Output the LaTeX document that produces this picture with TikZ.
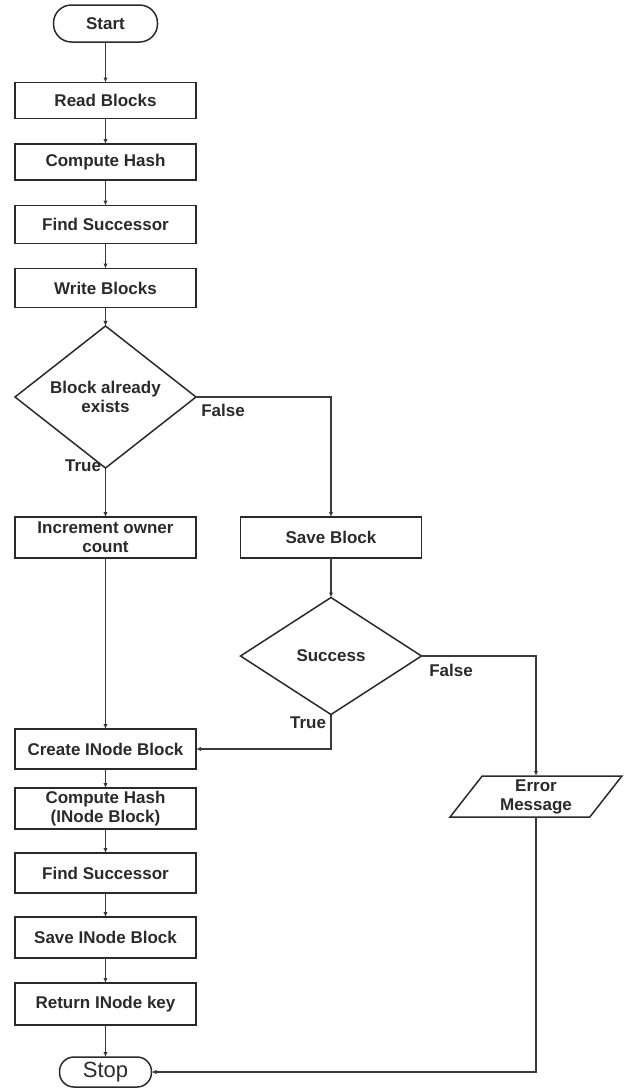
\documentclass[tikz,border=0pt]{standalone}
\usepackage{fontspec}
\setmainfont{Liberation Sans}
\usetikzlibrary{shapes.geometric,arrows.meta}
\definecolor{ink}{HTML}{2A2A2A}
\definecolor{wire}{HTML}{3A3A3A}
\tikzset{
  base/.style={draw=ink, line width=1.5pt, text=ink, inner sep=0pt, outer sep=0pt,
    font=\fontsize{17}{19}\selectfont\bfseries, align=center},
  procbox/.style={base, rectangle, minimum width=181pt},
  termbox/.style={base, rectangle},
  decbox/.style={base, diamond, minimum width=181pt, minimum height=117pt},
  iobox/.style={base, trapezium, trapezium left angle=58, trapezium right angle=122,
    trapezium stretches=true, minimum width=172pt, minimum height=41pt},
  conn/.style={draw=wire, line width=1.5pt, -{Latex[length=5pt,width=4.5pt]}},
  lbl/.style={text=ink, font=\fontsize{17}{19}\selectfont\bfseries, inner sep=0pt}
}
\begin{document}
\begin{tikzpicture}[x=1pt,y=-1pt]
\useasboundingbox (0,0) rectangle (624,1088);
\node[termbox, rounded corners=18pt, minimum width=104pt, minimum height=37pt] (start) at (105.5,23.5) {Start};
\node[procbox, minimum height=36pt] (read) at (105.5,100.5) {Read Blocks};
\node[procbox, minimum height=36pt] (hash1) at (105.5,162) {Compute Hash};
\node[procbox, minimum height=38pt] (succ1) at (105.5,224.5) {Find Successor};
\node[procbox, minimum height=39pt] (write) at (105.5,288) {Write Blocks};
\node[decbox] (dec1) at (105.5,397) {Block already\\exists};
\node[procbox, minimum height=41pt] (inc) at (105.5,537.5) {Increment owner\\count};
\node[procbox, minimum height=41pt] (save) at (331,537.5) {Save Block};
\node[decbox] (dec2) at (331,656) {Success};
\node[procbox, minimum height=40pt] (create) at (105.5,749) {Create INode Block};
\node[procbox, minimum height=41pt] (hash2) at (105.5,808.5) {Compute Hash\\(INode Block)};
\node[procbox, minimum height=40pt] (succ2) at (105.5,873) {Find Successor};
\node[procbox, minimum height=41pt] (saveinode) at (105.5,937.5) {Save INode Block};
\node[procbox, minimum height=42pt] (ret) at (105.5,1004) {Return INode key};
\node[termbox, rounded corners=14.5pt, minimum width=92pt, minimum height=30pt, font=\fontsize{22}{24}\selectfont] (stop) at (105.5,1072) {Stop};
\node[iobox] (err) at (536,796.5) {Error\\Message};

\draw[conn] (start) -- (read);
\draw[conn] (read) -- (hash1);
\draw[conn] (hash1) -- (succ1);
\draw[conn] (succ1) -- (write);
\draw[conn] (write) -- (dec1);
\draw[conn] (dec1.east) -| (save.north);
\draw[conn] (dec1.south) -- (inc.north);
\draw[conn] (save) -- (dec2);
\draw[conn] (dec2.east) -| (err.north);
\draw[conn] (dec2.south) |- (create.east);
\draw[conn] (inc) -- (create);
\draw[conn] (create) -- (hash2);
\draw[conn] (hash2) -- (succ2);
\draw[conn] (succ2) -- (saveinode);
\draw[conn] (saveinode) -- (ret);
\draw[conn] (ret) -- (stop);
\draw[conn] (err.south) |- (stop.east);

\node[lbl] (f1) at (223,410) {False};
\node[lbl] (t1) at (83,466) {True};
\node[lbl] (f2) at (451,670) {False};
\node[lbl] (t2) at (308,723) {True};
\end{tikzpicture}
\end{document}
